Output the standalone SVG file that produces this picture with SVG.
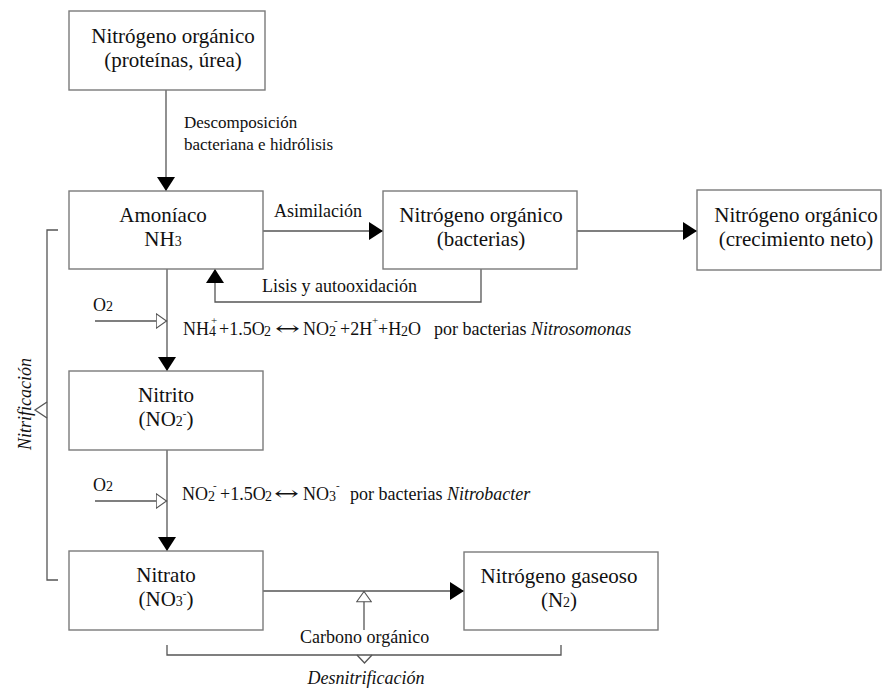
<svg xmlns="http://www.w3.org/2000/svg" width="883" height="689" viewBox="0 0 883 689">
<style>
text{font-family:"Liberation Serif","Times New Roman",serif;fill:#111}
.n{font-size:21px;text-anchor:middle}
.l{font-size:18px}
.d{font-size:17px}
.s{font-size:14px}
.p{font-size:11px}
.i{font-style:italic}
.ar{font-family:"DejaVu Serif",serif;font-size:20px}
.box{fill:#fff;stroke:#7a7a7a;stroke-width:1.4}
.c{fill:none;stroke:#555;stroke-width:1.3}
</style>
<defs>
<marker id="ah" markerUnits="userSpaceOnUse" viewBox="0 0 14 18" markerWidth="14" markerHeight="18" refX="14" refY="9" orient="auto"><path d="M0,0 L14,9 L0,18 z" fill="#000"/></marker>
<marker id="oh" markerUnits="userSpaceOnUse" viewBox="0 0 12 16" markerWidth="12" markerHeight="16" refX="11.5" refY="8" orient="auto"><path d="M0.7,0.7 L11,8 L0.7,15.3 z" fill="#fff" stroke="#555" stroke-width="1.1"/></marker>
</defs>

<g id="connectors">
<path class="c" d="M166,90 V191" marker-end="url(#ah)"/>
<path class="c" d="M263,231 H383" marker-end="url(#ah)"/>
<path class="c" d="M481,269 V302 H215 V269" marker-end="url(#ah)"/>
<path class="c" d="M577,231 H697" marker-end="url(#ah)"/>
<path class="c" d="M167,269 V371" marker-end="url(#ah)"/>
<path class="c" d="M95,321 H167" marker-end="url(#oh)"/>
<path class="c" d="M167,450 V551" marker-end="url(#ah)"/>
<path class="c" d="M95,501 H167" marker-end="url(#oh)"/>
<path class="c" d="M263,591 H464" marker-end="url(#ah)"/>
<path class="c" d="M364,630 V591" marker-end="url(#oh)"/>
</g>

<g id="brackets">
<path class="c" d="M167,645 V655 H561 V645"/>
<path class="c" d="M357,655 L364.5,663 L372,655"/>
<path class="c" d="M58,230 H47 V580 H58"/>
<path class="c" d="M47,402 L35,410 L47,418"/>
</g>

<g id="n1">
<rect class="box" x="69" y="11" width="196" height="79"/>
<text class="n" x="173" y="43">Nitrógeno orgánico</text>
<text class="n" x="173" y="67">(proteínas, úrea)</text>
</g>
<g id="n2">
<rect class="box" x="69" y="191" width="194" height="78"/>
<text class="n" x="163" y="222">Amoníaco</text>
<text class="n" x="163" y="246">NH<tspan class="s">3</tspan></text>
</g>
<g id="n3">
<rect class="box" x="383" y="191" width="194" height="78"/>
<text class="n" x="481" y="222">Nitrógeno orgánico</text>
<text class="n" x="481" y="246">(bacterias)</text>
</g>
<g id="n4">
<rect class="box" x="697" y="190" width="184" height="80"/>
<text class="n" x="796" y="222">Nitrógeno orgánico</text>
<text class="n" x="796" y="246">(crecimiento neto)</text>
</g>
<g id="n5">
<rect class="box" x="69" y="371" width="194" height="79"/>
<text class="n" x="166" y="402">Nitrito</text>
<text class="n" x="166" y="426">(NO<tspan class="s">2</tspan><tspan class="p" dy="-9">-</tspan><tspan dy="9">)</tspan></text>
</g>
<g id="n6">
<rect class="box" x="69" y="551" width="194" height="79"/>
<text class="n" x="166" y="582">Nitrato</text>
<text class="n" x="166" y="606">(NO<tspan class="s">3</tspan><tspan class="p" dy="-9">-</tspan><tspan dy="9">)</tspan></text>
</g>
<g id="n7">
<rect class="box" x="464" y="552" width="194" height="78"/>
<text class="n" x="559" y="583">Nitrógeno gaseoso</text>
<text class="n" x="559" y="607">(N<tspan class="s">2</tspan>)</text>
</g>

<g id="labels">
<text class="d" x="184" y="128">Descomposición</text>
<text class="d" x="184" y="150">bacteriana e hidrólisis</text>
<text class="l" x="274" y="217">Asimilación</text>
<text class="l" x="262" y="292">Lisis y autooxidación</text>
<text class="l" x="93" y="311">O<tspan class="s">2</tspan></text>
<text class="l" x="93" y="491">O<tspan class="s">2</tspan></text>
<text class="l" x="300" y="643">Carbono orgánico</text>
<text class="l i" x="366" y="684" text-anchor="middle">Desnitrificación</text>
<text class="l i" transform="translate(31,404) rotate(-90)" text-anchor="middle">Nitrificación</text>

<text class="l" y="335"><tspan x="183">NH</tspan><tspan class="s" x="209" y="336">4</tspan><tspan class="p" x="211" y="324">+</tspan><tspan x="219" y="335">+1.5O</tspan><tspan class="s" x="264" y="336">2</tspan><tspan class="ar" x="275" y="335" textLength="25" lengthAdjust="spacingAndGlyphs">↔</tspan><tspan x="303" y="335">NO</tspan><tspan class="s" x="329" y="336">2</tspan><tspan class="p" x="334" y="324">-</tspan><tspan x="340" y="335">+2H</tspan><tspan class="p" x="372" y="324">+</tspan><tspan x="378" y="335">+H</tspan><tspan class="s" x="401" y="336">2</tspan><tspan x="408" y="335">O</tspan><tspan x="434">por bacterias </tspan><tspan class="i">Nitrosomonas</tspan></text>

<text class="l" y="500"><tspan x="182">NO</tspan><tspan class="s" x="208" y="501">2</tspan><tspan class="p" x="213" y="489">-</tspan><tspan x="220" y="500">+1.5O</tspan><tspan class="s" x="265" y="501">2</tspan><tspan class="ar" x="274" y="500" textLength="25" lengthAdjust="spacingAndGlyphs">↔</tspan><tspan x="303" y="500">NO</tspan><tspan class="s" x="329" y="501">3</tspan><tspan class="p" x="336" y="489">-</tspan><tspan x="350" y="500">por bacterias </tspan><tspan class="i">Nitrobacter</tspan></text>
</g>
</svg>
